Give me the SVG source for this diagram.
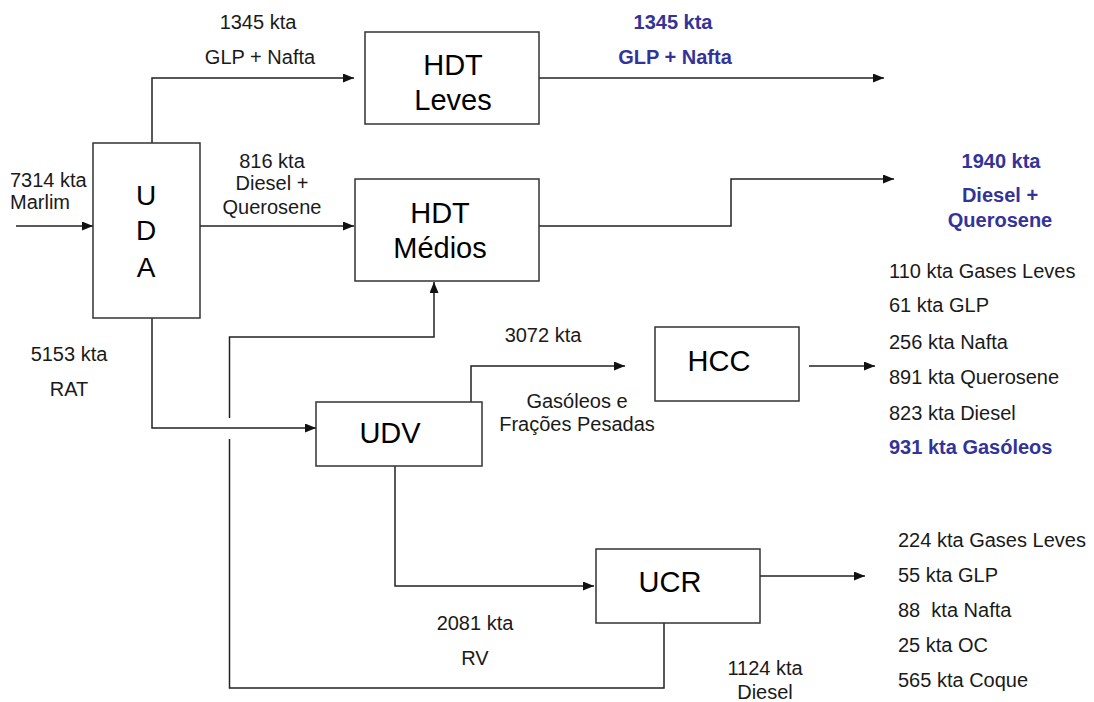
<svg xmlns="http://www.w3.org/2000/svg" width="1094" height="702" viewBox="0 0 1094 702">
<defs>
<marker id="arr" markerUnits="userSpaceOnUse" markerWidth="12" markerHeight="10" refX="11" refY="4.5" orient="auto">
<path d="M0,0 L11,4.5 L0,9 z" fill="#111"/>
</marker>
<style>
.box{fill:#fff;stroke:#333;stroke-width:1.5}
.ln{fill:none;stroke:#222;stroke-width:1.5}
.a{marker-end:url(#arr)}
text{font-family:"Liberation Sans",Arial,sans-serif;fill:#1a1a1a}
.t{font-size:20px}
.m{text-anchor:middle}
.big{font-size:29px;text-anchor:middle;fill:#000}
.uda{font-size:28px;text-anchor:middle;fill:#000}
.b{font-size:20px;font-weight:bold;fill:#333399}
</style>
</defs>
<rect width="1094" height="702" fill="#fff"/>
<g id="connectors">
<path class="ln a" d="M16,226 H93"/>
<path class="ln a" d="M152,143 V78 H354"/>
<path class="ln a" d="M200,226 H354"/>
<path class="ln a" d="M539,78 H884"/>
<path class="ln a" d="M539,226 H731 V179 H894"/>
<path class="ln a" d="M152,318 V428 H316"/>
<path class="ln a" d="M471,402 V366 H625"/>
<path class="ln a" d="M809,366 H875"/>
<path class="ln a" d="M395,466 V586 H594"/>
<path class="ln a" d="M760,576 H865"/>
<path class="ln" d="M664,623 V688 H229.5 V439"/>
<path class="ln a" d="M229.5,418 V337 H434 V282"/>
</g>
<g id="UDA">
<rect class="box" x="93" y="143" width="107" height="175"/>
<text class="uda" x="146" y="205">U</text>
<text class="uda" x="146" y="240">D</text>
<text class="uda" x="146" y="277">A</text>
</g>
<g id="HDT_Leves">
<rect class="box" x="365" y="32" width="174" height="92"/>
<text class="big" x="453" y="75">HDT</text>
<text class="big" x="453" y="110">Leves</text>
</g>
<g id="HDT_Medios">
<rect class="box" x="355" y="179" width="184" height="102"/>
<text class="big" x="440" y="223">HDT</text>
<text class="big" x="440" y="258">Médios</text>
</g>
<g id="UDV">
<rect class="box" x="316" y="402" width="166" height="64"/>
<text class="big" x="390" y="443">UDV</text>
</g>
<g id="HCC">
<rect class="box" x="655" y="327" width="144" height="74"/>
<text class="big" x="719" y="371">HCC</text>
</g>
<g id="UCR">
<rect class="box" x="596" y="549" width="164" height="74"/>
<text class="big" x="670" y="592">UCR</text>
</g>
<g id="labels">
<text class="t m" x="258" y="29">1345 kta</text>
<text class="t m" x="260" y="64">GLP + Nafta</text>
<text class="t" x="10" y="187">7314 kta</text>
<text class="t" x="10" y="209">Marlim</text>
<text class="t m" x="272" y="168">816 kta</text>
<text class="t m" x="272" y="190">Diesel +</text>
<text class="t m" x="272" y="214">Querosene</text>
<text class="b m" x="673" y="29">1345 kta</text>
<text class="b m" x="675" y="64">GLP + Nafta</text>
<text class="b m" x="1001" y="168">1940 kta</text>
<text class="b m" x="1000" y="202">Diesel +</text>
<text class="b m" x="1000" y="227">Querosene</text>
<text class="t" x="889" y="278">110 kta Gases Leves</text>
<text class="t" x="889" y="312">61 kta GLP</text>
<text class="t" x="889" y="349">256 kta Nafta</text>
<text class="t" x="889" y="384">891 kta Querosene</text>
<text class="t" x="889" y="420">823 kta Diesel</text>
<text class="b" x="889" y="454">931 kta Gasóleos</text>
<text class="t m" x="69" y="361">5153 kta</text>
<text class="t m" x="69" y="396">RAT</text>
<text class="t m" x="543" y="342">3072 kta</text>
<text class="t m" x="577" y="408">Gasóleos e</text>
<text class="t m" x="577" y="431">Frações Pesadas</text>
<text class="t m" x="475" y="630">2081 kta</text>
<text class="t m" x="475" y="665">RV</text>
<text class="t m" x="765" y="675">1124 kta</text>
<text class="t m" x="765" y="699">Diesel</text>
<text class="t" x="898" y="547">224 kta Gases Leves</text>
<text class="t" x="898" y="582">55 kta GLP</text>
<text class="t" x="898" y="617">88&#160; kta Nafta</text>
<text class="t" x="898" y="652">25 kta OC</text>
<text class="t" x="898" y="687">565 kta Coque</text>
</g>
</svg>
